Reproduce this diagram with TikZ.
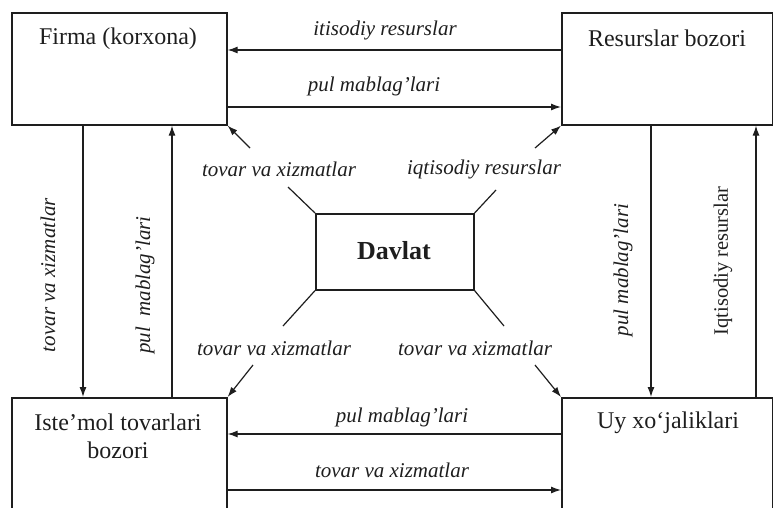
\documentclass[tikz,border=0pt]{standalone}
\usepackage{fontspec}
\setmainfont{Liberation Serif}
\usetikzlibrary{arrows.meta,calc}
\definecolor{ink}{HTML}{1E1E1E}
\tikzset{
  boxx/.style={draw=ink, line width=1.6pt, anchor=north west, inner sep=0pt},
  arr/.style={draw=ink, line width=1.2pt, -{Latex[length=10pt,width=7pt]}},
  ln/.style={draw=ink, line width=1.2pt},
  big/.style={text=ink, font=\fontsize{24}{28}\selectfont, inner sep=0pt, align=center},
  lab/.style={text=ink, font=\fontsize{21}{24}\selectfont\itshape, inner sep=0pt},
  labup/.style={text=ink, font=\fontsize{20.5}{24}\selectfont, inner sep=0pt},
}
\begin{document}
\begin{tikzpicture}[x=1pt,y=-1pt]
\useasboundingbox (0,0) rectangle (773,507);
\clip (0,0) rectangle (773,507);
% boxes
\node[boxx, minimum width=215pt, minimum height=112pt] (firma) at (11,12) {};
\node[boxx, minimum width=211pt, minimum height=112pt] (res) at (561,12) {};
\node[boxx, minimum width=215pt, minimum height=130pt] (ist) at (11,397) {};
\node[boxx, minimum width=211pt, minimum height=130pt] (uy) at (561,397) {};
\node[boxx, minimum width=158pt, minimum height=76pt] (dav) at (315,213) {};
% box texts
\node[big] (tfirma) at (118,39) {Firma (korxona)};
\node[big] (tres) at (667,38) {Resurslar bozori};
\node[big] (tist) at (118,436) {Iste’mol tovarlari\\bozori};
\node[big] (tuy) at (668,423) {Uy xo‘jaliklari};
\node[big, font=\fontsize{26}{30}\selectfont\bfseries] (tdav) at (394,251) {Davlat};
% top horizontal
\draw[arr] ([yshift=-38pt]res.north west) -- ([yshift=-38pt]firma.north east);
\draw[arr] ([yshift=-95pt]firma.north east) -- ([yshift=-95pt]res.north west);
\node[lab] (l1) at (385,30) {itisodiy resurslar};
\node[lab] (l2) at (374,86) {pul mablag’lari};
% bottom horizontal
\draw[arr] ([yshift=-37pt]uy.north west) -- ([yshift=-37pt]ist.north east);
\draw[arr] ([yshift=-93pt]ist.north east) -- ([yshift=-93pt]uy.north west);
\node[lab] (l3) at (402,417) {pul mablag’lari};
\node[lab] (l4) at (392,470) {tovar va xizmatlar};
% left vertical
\draw[arr] ([xshift=72pt]firma.south west) -- ([xshift=72pt]ist.north west);
\draw[arr] ([xshift=161pt]ist.north west) -- ([xshift=161pt]firma.south west);
\node[lab, rotate=90] (l5) at (48,275) {tovar va xizmatlar};
\node[lab, rotate=90] (l6) at (145,285) {pul\ \ mablag’lari};
% right vertical
\draw[arr] ([xshift=90pt]res.south west) -- ([xshift=90pt]uy.north west);
\draw[arr] ([xshift=195pt]uy.north west) -- ([xshift=195pt]res.south west);
\node[lab, rotate=90] (l7) at (623,270) {pul mablag’lari};
\node[labup, rotate=90] (l8) at (723,261) {Iqtisodiy resurslar};
% diagonals from Davlat
\coordinate (dtl) at (288,187);
\coordinate (dtr) at (496,190);
\coordinate (dbl) at (283,326);
\coordinate (dbr) at (504,326);
\draw[ln] (dav.north west) -- (dtl);
\draw[ln] (dav.north east) -- (dtr);
\draw[ln] (dav.south west) -- (dbl);
\draw[ln] (dav.south east) -- (dbr);
\node[lab] (l9) at (279,169) {tovar va xizmatlar};
\node[lab] (l10) at (484,169) {iqtisodiy resurslar};
\node[lab] (l11) at (274,348) {tovar va xizmatlar};
\node[lab] (l12) at (475,348) {tovar va xizmatlar};
\coordinate (atl) at (250,148);
\coordinate (atr) at (535,148);
\coordinate (abl) at (253,365);
\coordinate (abr) at (535,365);
\draw[arr] (atl) -- (firma.south east);
\draw[arr] (atr) -- (res.south west);
\draw[arr] (abl) -- (ist.north east);
\draw[arr] (abr) -- (uy.north west);
\end{tikzpicture}
\end{document}
